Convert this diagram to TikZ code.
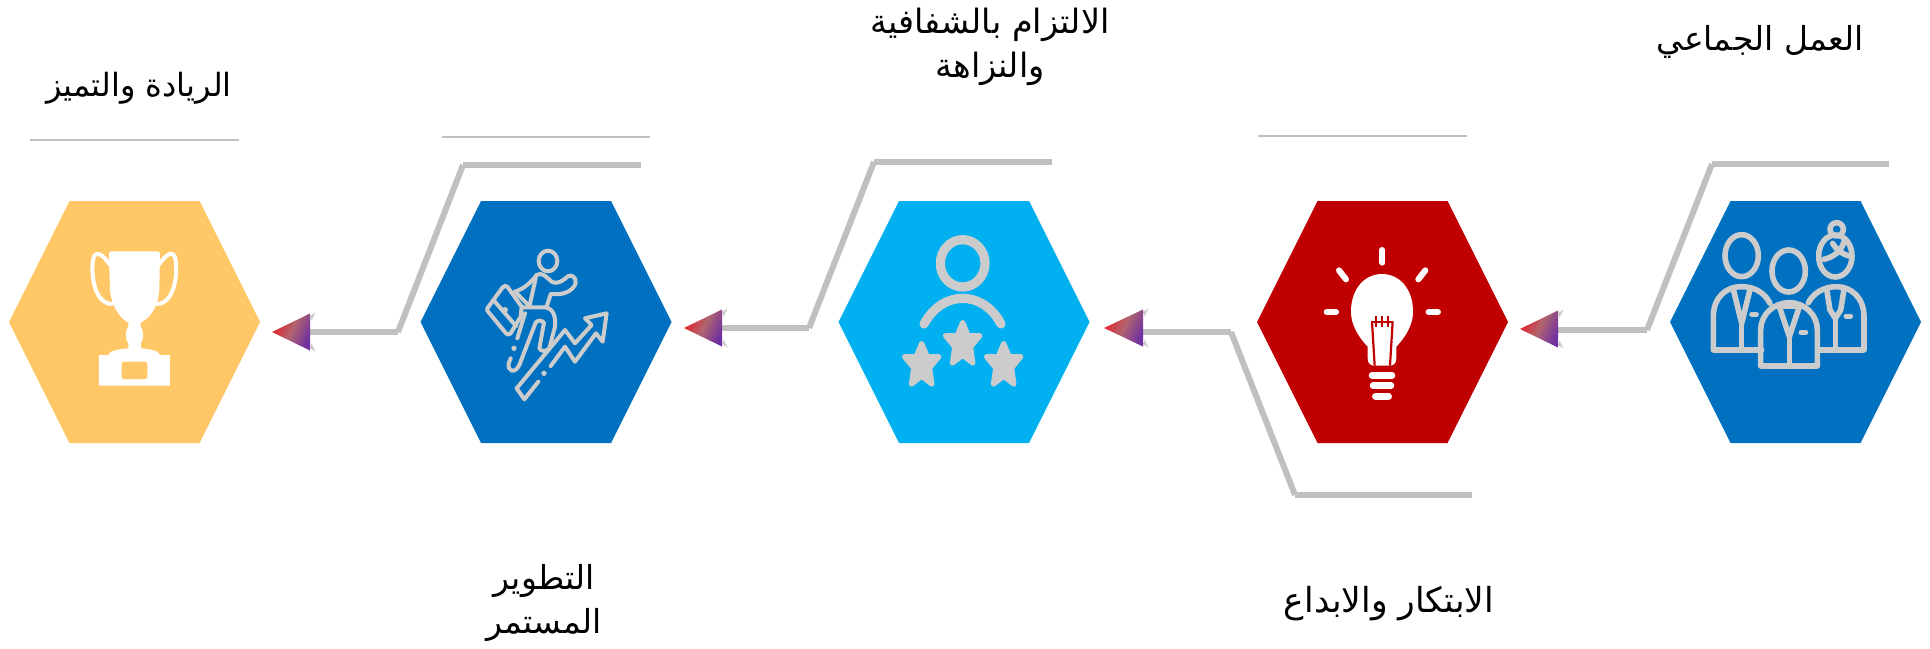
\documentclass[tikz,border=0pt]{standalone}
\usepackage{fontspec}
\TeXXeTstate=1
\newfontfamily\arabicfont[Script=Arabic]{DejaVu Sans}
\definecolor{blueH}{HTML}{0070C0}
\definecolor{redH}{HTML}{C00000}
\definecolor{cyanH}{HTML}{00B0F0}
\definecolor{goldH}{HTML}{FFC766}
\definecolor{lineC}{HTML}{C0C0C0}
\definecolor{iconC}{HTML}{CCCCCC}
\definecolor{gradA}{HTML}{E8202A}
\definecolor{gradM}{HTML}{B0646E}
\definecolor{gradB}{HTML}{7030A0}
\tikzset{
  hexbox/.style={rectangle,minimum width=251pt,minimum height=242pt,inner sep=0pt,outer sep=0pt,draw=none},
  conn/.style={draw=lineC,line width=6pt},
  thinrule/.style={draw=lineC,line width=1.6pt},
  label/.style={font=\arabicfont\fontsize{#1}{44}\selectfont,align=center,text=black,inner sep=0pt},
  ic/.style={draw=iconC,line width=#1,line cap=round,line join=round,fill=none},
  wh/.style={draw=white,line width=#1,line cap=round,line join=round,fill=none},
  zoomed/.style={shift={#1},x=0.33333pt,y=-0.33333pt}
}
\newcommand{\hexa}[3]{% name, centre x, colour
  \node[hexbox] (#1) at (#2,322) {};
  \fill[#3] (#1.west) -- ++(60.5,-121) -- ++(130,0) -- (#1.east) -- ++(-60.5,121) -- ++(-130,0) -- cycle;
}
\newcommand{\gradarrow}[4]{% name, tip x, tip y, back x
  \coordinate (#1tip) at (#2,#3);
  \coordinate (#1back) at (#4,#3);
  \fill[iconC] (#4,#3-16) -- ++(5.5,-3.5) -- ++(-4,8) -- cycle;
  \fill[iconC] (#4,#3+16) -- ++(5.5,3.5) -- ++(-4,-8) -- cycle;
  \shade[left color=gradA,right color=gradB,middle color=gradM,shading angle=65]
    (#1tip) -- (#4,#3-18.5) -- (#4,#3+18.5) -- cycle;
}
\newcommand{\zstar}[2]{%
  \fill[iconC,draw=iconC,line width=5pt,line join=round]
   (#1,#2-66) -- (#1+17,#2-26) -- (#1+52,#2-26) -- (#1+24,#2+8) -- (#1+31,#2+57) -- (#1,#2+33) -- (#1-31,#2+57) -- (#1-24,#2+8) -- (#1-52,#2-26) -- (#1-17,#2-26) -- cycle;
}
\begin{document}
\begin{tikzpicture}[x=1pt,y=-1pt]
\useasboundingbox (0,0) rectangle (1930,648);
\fill[white] (0,0) rectangle (1930,648);

% hexagons
\hexa{hexlead}{134.5}{goldH}
\hexa{hexdev}{546}{blueH}
\hexa{hexint}{964}{cyanH}
\hexa{hexinn}{1382.5}{redH}
\hexa{hexteam}{1795.5}{blueH}

% thin rules
\coordinate (r1a) at (30,140);   \coordinate (r1b) at (239,140);
\coordinate (r2a) at (442,137);  \coordinate (r2b) at (650,137);
\coordinate (r3a) at (1258,136); \coordinate (r3b) at (1467,136);
\draw[thinrule] (r1a) -- (r1b);
\draw[thinrule] (r2a) -- (r2b);
\draw[thinrule] (r3a) -- (r3b);

% connectors
\coordinate (t1) at (1889,164); \coordinate (t2) at (1712,164); \coordinate (t3) at (1647,330);
\draw[conn] (t1) -- (t2); \draw[conn] (t2) -- (t3); \draw[conn] (t3) -- (1558,330);
\gradarrow{at}{1520}{329}{1558}

\coordinate (i1) at (1472,495); \coordinate (i2) at (1295,495); \coordinate (i3) at (1231,332);
\draw[conn] (i1) -- (i2); \draw[conn] (i2) -- (i3); \draw[conn] (i3) -- (1143,332);
\gradarrow{ai}{1104}{328}{1143}

\coordinate (c1) at (1052,162); \coordinate (c2) at (874,162); \coordinate (c3) at (809,328);
\draw[conn] (c1) -- (c2); \draw[conn] (c2) -- (c3); \draw[conn] (c3) -- (722,328);
\gradarrow{ac}{684}{328}{722}

\coordinate (d1) at (641,165); \coordinate (d2) at (463,165); \coordinate (d3) at (398,332);
\draw[conn] (d1) -- (d2); \draw[conn] (d2) -- (d3); \draw[conn] (d3) -- (310,332);
\gradarrow{ad}{272}{332}{310}

% team icon
\begin{scope}[zoomed={(1480,130)}]
  \tikzset{every path/.append style={ic=5.6pt}}
  \draw (785,377) ellipse [x radius=50,y radius=63];
  \draw (926,423) ellipse [x radius=50,y radius=63];
  \draw (1066,378) ellipse [x radius=50,y radius=63];
  \draw (1070,298) circle [radius=20];
  \draw (1032,388) .. controls (1065,380) and (1085,360) .. (1092,335);
  \draw (1058,340) .. controls (1070,360) and (1085,372) .. (1108,378);
  % left body
  \draw (845,660) -- (700,660) -- (700,560) .. controls (700,505) and (735,470) .. (785,470) .. controls (825,470) and (855,490) .. (870,520);
  \draw (760,478) -- (785,580) -- (810,478);
  \draw (785,580) -- (785,655);
  % right body
  \draw (985,518) .. controls (1000,490) and (1030,470) .. (1070,470) .. controls (1115,470) and (1152,505) .. (1152,560) -- (1152,660) -- (1015,660);
  \draw (1040,478) -- (1050,540) -- (1066,565) -- (1082,540) -- (1092,478);
  \draw (1066,565) -- (1066,655);
  % middle body
  \draw (842,708) -- (842,600) .. controls (842,555) and (880,518) .. (928,518) .. controls (975,518) and (1012,555) .. (1012,600) -- (1012,708) -- cycle;
  \draw (898,530) -- (928,620) -- (958,530);
  \draw (898,530) -- (958,530);
  \draw (928,620) -- (928,700);
  % pockets
  \draw[line width=5pt] (815,553) -- (829,553);
  \draw[line width=5pt] (963,607) -- (977,607);
  \draw[line width=5pt] (1098,558) -- (1112,558);
\end{scope}

% bulb icon
\begin{scope}[zoomed={(1100,180)}]
  \draw[wh=6pt] (847,210) -- (847,248);
  \draw[wh=6pt] (717,271) -- (738,298);
  \draw[wh=6pt] (976,271) -- (955,298);
  \draw[wh=6pt] (680,396) -- (708,396);
  \draw[wh=6pt] (986,396) -- (1014,396);
  \fill[white] (803,500) .. controls (770,465) and (753,430) .. (753,395) .. controls (753,325) and (795,282) .. (846,282) .. controls (897,282) and (939,325) .. (939,395) .. controls (939,430) and (922,465) .. (889,500) -- (889,535) .. controls (889,550) and (880,557) .. (870,557) -- (822,557) .. controls (812,557) and (803,550) .. (803,535) -- cycle;
  \draw[redH,line width=1.8pt] (814,425) -- (880,425);
  \draw[redH,line width=2.2pt] (816,425) -- (824,557);
  \draw[redH,line width=2.2pt] (878,425) -- (870,557);
  \draw[redH,line width=1.8pt] (829,408) -- (829,442);
  \draw[redH,line width=1.8pt] (846,408) -- (846,442);
  \draw[redH,line width=1.8pt] (863,408) -- (863,442);
  \draw[wh=6.6pt] (816,586) -- (876,586);
  \draw[wh=6.6pt] (819,617) -- (873,617);
  \draw[wh=6.6pt] (826,649) -- (866,649);
\end{scope}

% person with stars
\begin{scope}[zoomed={(680,150)}]
  \draw[ic=9.2pt] (848,340) ellipse [x radius=67,y radius=71];
  \draw[ic=9.2pt] (732,522) .. controls (760,470) and (805,445) .. (848,445) .. controls (891,445) and (936,470) .. (963,522);
  \zstar{848}{583}
  \zstar{725}{646}
  \zstar{971}{646}
\end{scope}

% runner icon
\begin{scope}[zoomed={(270,150)}]
  \tikzset{every path/.append style={ic=4pt}}
  \draw (834,333) ellipse [x radius=28,y radius=31];
  \draw (735,425) .. controls (765,415) and (785,395) .. (800,375) .. controls (815,365) and (828,380) .. (845,395) .. controls (865,405) and (880,390) .. (895,378) .. controls (915,372) and (925,395) .. (910,412) .. controls (895,430) and (870,435) .. (842,432) -- (830,470);
  \draw (797,385) -- (778,470);
  \draw (735,425) -- (778,468);
  \draw (755,472) -- (825,472) .. controls (850,475) and (858,500) .. (855,530) -- (838,595);
  \draw (742,565) -- (765,490);
  \draw (838,595) .. controls (830,605) and (812,605) .. (808,595) -- (822,518) .. controls (815,510) and (802,510) .. (797,518) -- (748,645) .. controls (735,672) and (712,665) .. (716,640) -- (722,625);
  \fill[iconC,draw=none] (732,595) circle [radius=8];
  \draw (652,475) -- (698,412) .. controls (703,407) and (708,407) .. (712,410) -- (755,470) -- (752,500) -- (722,550) .. controls (718,555) and (712,555) .. (708,550) -- (652,482) -- cycle;
  \draw (672,452) -- (738,528);
  \fill[iconC,draw=none] (705,480) circle [radius=9];
  \draw (740,715) -- (885,540) -- (915,580) -- (965,525) -- (945,505) -- (1010,490) -- (998,575) -- (978,550) -- (915,635) -- (885,590) -- (842,648);
  \draw (805,695) -- (763,748) -- (740,715);
  \fill[iconC,draw=none] (822,670) circle [radius=8];
\end{scope}

% trophy
\begin{scope}[zoomed={(0,190)}]
  \fill[white] (327,190) .. controls (327,185) and (332,184) .. (336,184) -- (472,184) .. controls (477,184) and (480,186) .. (480,190) -- (478,300) .. controls (475,350) and (450,385) .. (422,398) -- (422,410) .. controls (432,420) and (432,450) .. (422,460) -- (424,475) .. controls (450,477) and (478,483) .. (480,495) -- (510,495) -- (510,587) -- (297,587) -- (297,495) -- (325,495) .. controls (328,483) and (355,477) .. (385,475) -- (385,460) .. controls (375,450) and (375,420) .. (385,410) -- (385,398) .. controls (360,385) and (335,350) .. (330,300) -- cycle;
  \fill[goldH,rounded corners=2pt] (365,515) rectangle (442,567);
  \draw[wh=4pt] (330,225) .. controls (310,195) and (285,175) .. (279,210) .. controls (272,260) and (285,340) .. (335,342);
  \draw[wh=4pt] (476,225) .. controls (496,195) and (521,175) .. (527,210) .. controls (534,260) and (521,340) .. (471,342);
\end{scope}

% labels
\node[label=32] (ltrophy) at (139,88) {\beginR الريادة والتميز\endR};
\node[label=33] (ldev) at (544,603) {\beginR التطوير\endR\\\beginR المستمر\endR};
\node[label=33.5] (lint) at (990,47) {\beginR الالتزام بالشفافية\endR\\\beginR والنزاهة\endR};
\node[label=34.5] (linn) at (1389,604) {\beginR الابتكار والابداع\endR};
\node[label=33] (lteam) at (1760,42) {\beginR العمل الجماعي\endR};
\end{tikzpicture}
\end{document}
